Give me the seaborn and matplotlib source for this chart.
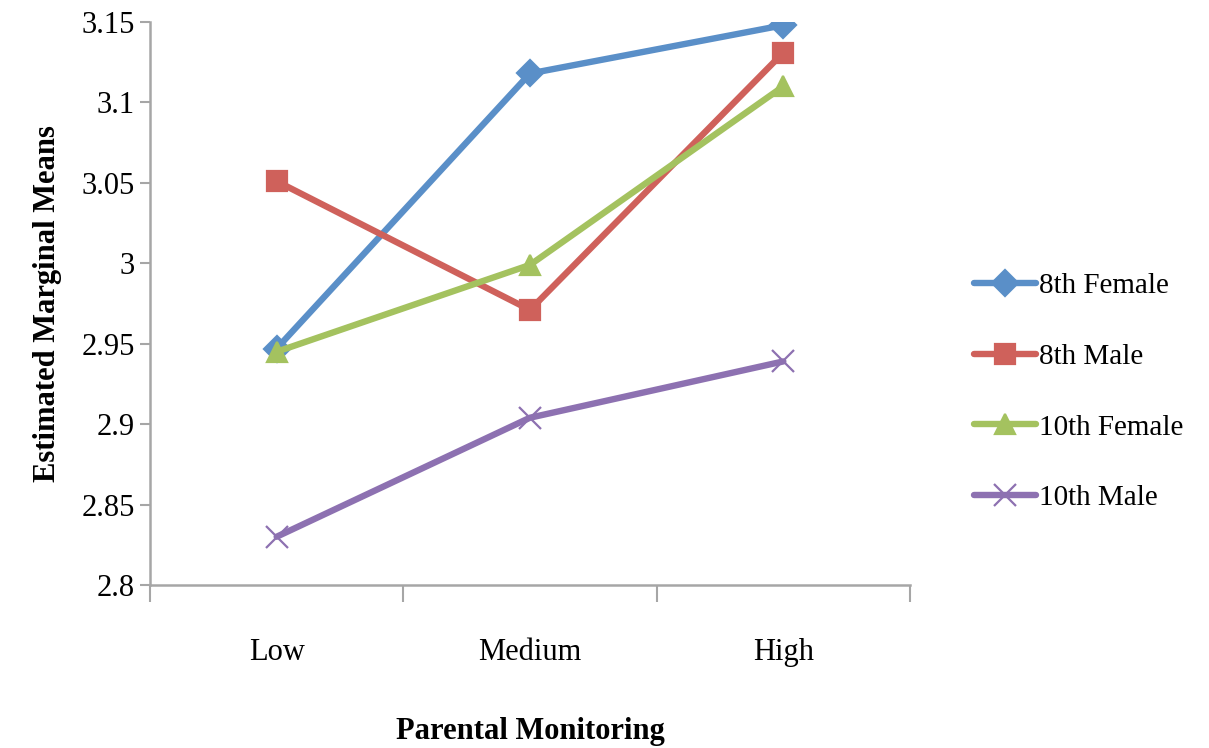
import matplotlib
matplotlib.use("Agg")
import matplotlib.pyplot as plt
import seaborn as sns
import pandas as pd
import numpy as np

# Estimated marginal means by parental monitoring level
levels = ["Low", "Medium", "High"]
groups = ["8th Female", "8th Male", "10th Female", "10th Male"]
female_8th = [2.947, 3.118, 3.148]
male_8th = [3.051, 2.971, 3.131]
female_10th = [2.945, 2.999, 3.110]
male_10th = [2.830, 2.904, 2.939]
y_ticks = [2.8, 2.85, 2.9, 2.95, 3.0, 3.05, 3.1, 3.15]
y_tick_labels = ["2.8", "2.85", "2.9", "2.95", "3", "3.05", "3.1", "3.15"]

colors = ["#5A8FC8", "#CF615B", "#A4C25F", "#8D71B1"]
markers = ["D", "s", "^", "x"]
marker_sizes = [13, 14, 14, 16]

series = [female_8th, male_8th, female_10th, male_10th]
df = pd.DataFrame({
    "level": np.tile(np.arange(len(levels)), len(groups)),
    "mean": np.concatenate(series),
    "group": np.repeat(groups, len(levels)),
})

sns.set_style("white")
plt.rcParams["font.family"] = ["Liberation Serif", "DejaVu Serif"]
plt.rcParams["text.color"] = "black"
plt.rcParams["axes.labelcolor"] = "black"
plt.rcParams["xtick.labelcolor"] = "black"
plt.rcParams["ytick.labelcolor"] = "black"

fig = plt.figure(figsize=(12.09, 7.48), dpi=100)
ax = fig.add_axes([150 / 1209, 1 - 585 / 748, 760 / 1209, 563 / 748])

# one call per group: filled and line-art markers are drawn separately
for g, c, m, ms in zip(groups, colors, markers, marker_sizes):
    sns.lineplot(
        data=df[df["group"] == g], x="level", y="mean",
        color=c, marker=m, markersize=ms, markeredgecolor=c,
        markeredgewidth=1.6, linewidth=4.6, ax=ax, legend=False,
    )

ax.set_xlim(-0.5, len(levels) - 0.5)
ax.set_ylim(2.8, 3.15)
ax.set_yticks(y_ticks)
ax.set_yticklabels(y_tick_labels, fontsize=22)
ax.set_xticks(range(len(levels)))
ax.set_xticklabels(levels, fontsize=22)
ax.set_xticks(np.arange(-0.5, len(levels), 1.0), minor=True)
ax.tick_params(axis="x", which="major", length=0, pad=38)
ax.tick_params(axis="x", which="minor", length=12, width=1.5, color="#A6A6A6", direction="out", bottom=True)
ax.tick_params(axis="y", which="major", length=7, width=1.5, color="#A6A6A6", direction="out", left=True, pad=4)

for side in ["top", "right"]:
    ax.spines[side].set_visible(False)
for side in ["left", "bottom"]:
    ax.spines[side].set_color("#A6A6A6")
    ax.spines[side].set_linewidth(1.8)

ax.set_xlabel("Parental Monitoring", fontsize=22, fontweight="bold", labelpad=36)
ax.set_ylabel("Estimated Marginal Means", fontsize=22, fontweight="bold", labelpad=14)

handles = [
    plt.Line2D([], [], color=c, marker=m, linewidth=4.6, markersize=ms,
               markeredgecolor=c, markeredgewidth=1.6)
    for c, m, ms in zip(colors, markers, marker_sizes)
]
fig.legend(handles, groups, loc="upper left", bbox_to_anchor=(962 / 1209, 1 - 261 / 748),
           frameon=False, fontsize=21, handlelength=2.15, handletextpad=0.1,
           labelspacing=1.52, borderaxespad=0)

fig.savefig("out.png", dpi=100)
